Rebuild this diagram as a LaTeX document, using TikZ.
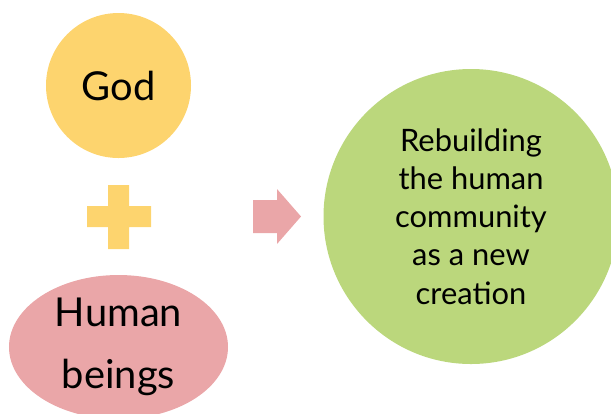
\documentclass[tikz,border=0pt]{standalone}
\usepackage{fontspec}
\setmainfont{Lato}
\usepackage{xcolor}
\usepackage{tikz}
\usetikzlibrary{shapes.geometric}
\definecolor{godyellow}{RGB}{253,212,110}
\definecolor{humanpink}{RGB}{234,166,168}
\definecolor{newgreen}{RGB}{187,215,124}
\tikzstyle{yellow node}=[fill=godyellow, draw=none, shape=circle, minimum size=145bp, inner sep=0pt, font=\fontsize{40}{62}\selectfont]
\tikzstyle{pink node}=[fill=humanpink, draw=none, shape=ellipse, minimum width=219bp, minimum height=144bp, inner sep=0pt, align=center, font=\fontsize{40}{62}\selectfont]
\tikzstyle{green node}=[fill=newgreen, draw=none, shape=circle, minimum size=295bp, inner sep=0pt, align=center, font=\fontsize{31}{38.3}\selectfont]
\pgfdeclarelayer{nodelayer}
\pgfdeclarelayer{edgelayer}
\pgfsetlayers{nodelayer,edgelayer}
\begin{document}
\begin{tikzpicture}[x=1bp, y=-1bp]
    	\useasboundingbox (0, 0) rectangle (611, 413);
    	\clip (0, 0) rectangle (611, 413);
    	\begin{pgfonlayer}{nodelayer}
    		\node [style=yellow node] (0) at (118.5, 85.5) {God};
    		\node [style=pink node] (1) at (118.5, 347) {Human\\beings};
    		\node [style=green node] (2) at (471, 216.5) {Rebuilding\\the human\\community\\as a new\\creation};
    	\end{pgfonlayer}
    	\begin{pgfonlayer}{edgelayer}
    		\fill [godyellow] (108, 185) -- (129, 185) -- (129, 206) -- (151, 206) -- (151, 227) -- (129, 227) -- (129, 249) -- (108, 249) -- (108, 227) -- (87, 227) -- (87, 206) -- (108, 206) -- cycle;
    		\fill [humanpink] (253, 200) -- (277, 200) -- (277, 189) -- (301, 216.5) -- (277, 244) -- (277, 233) -- (253, 233) -- cycle;
    	\end{pgfonlayer}
    \end{tikzpicture}
\end{document}
